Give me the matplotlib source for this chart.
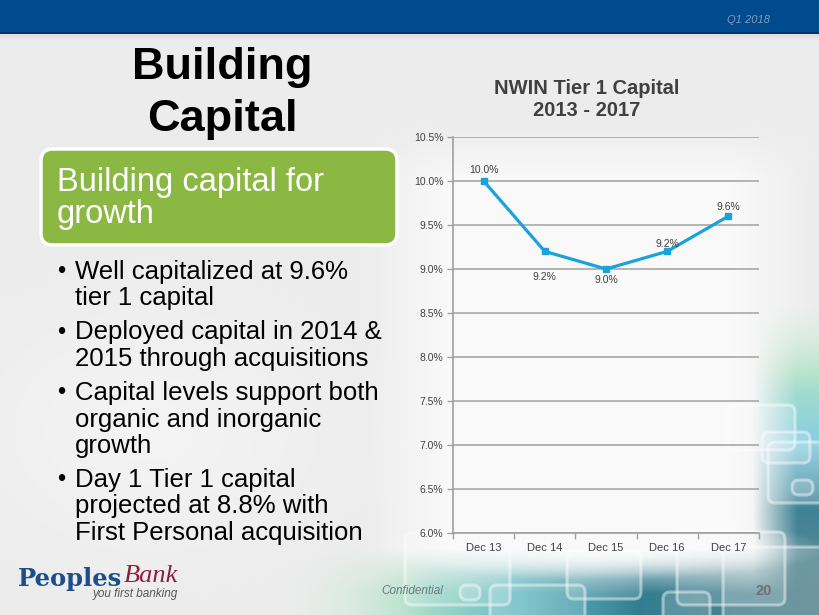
import numpy as np
import matplotlib
matplotlib.use("Agg")
import matplotlib.pyplot as plt
from matplotlib.patches import FancyBboxPatch, Rectangle

# ---- data ----
categories = ["Dec 13", "Dec 14", "Dec 15", "Dec 16", "Dec 17"]
tier1 = [10.0, 9.2, 9.0, 9.2, 9.6]
label_offsets = [11, -26, -11, 7, 9]  # px, positive = above
y_ticks = [6.0, 6.5, 7.0, 7.5, 8.0, 8.5, 9.0, 9.5, 10.0, 10.5]
bullets = [
    ["Well capitalized at 9.6%", "tier 1 capital"],
    ["Deployed capital in 2014 &", "2015 through acquisitions"],
    ["Capital levels support both", "organic and inorganic", "growth"],
    ["Day 1 Tier 1 capital", "projected at 8.8% with", "First Personal acquisition"],
]

W, H = 820, 615
plt.rcParams['font.family'] = ['Liberation Sans', 'DejaVu Sans']
fig = plt.figure(figsize=(W / 100, H / 100), dpi=100)

# ---- background ----
bg = fig.add_axes([0, 0, 1, 1])
bg.set_xlim(0, W)
bg.set_ylim(H, 0)
bg.axis('off')
yy, xx = np.mgrid[0:H, 0:W].astype(float)
img = np.ones((H, W, 3)) * np.array([236, 236, 236]) / 255.0


def blend(img, w, col):
    col = np.asarray(col, float)
    if col.ndim == 1:
        col = col / 255.0
    return img * (1 - w[..., None]) + col * w[..., None]


# soft white glow behind chart and lower-left text
gx = np.clip(1 - np.maximum(np.abs(xx - 590) - 140, 0) / 90.0, 0, 1)
gy = np.clip(1 - np.maximum(np.abs(yy - 360) - 180, 0) / 60.0, 0, 1)
img = blend(img, (gx * gy) * 0.85, [252, 252, 252])
d = np.sqrt(((xx - 150) / 260.0) ** 2 + ((yy - 430) / 190.0) ** 2)
img = blend(img, np.clip(1 - d, 0, 1) * 0.6, [250, 250, 250])

# right band colour (varies with y)
ystops = [300, 370, 440, 510, 615]
rc = np.array([[215, 238, 222], [170, 225, 195], [130, 205, 225], [55, 125, 145], [90, 135, 145]], float)
rcol = np.stack([np.interp(yy, ystops, rc[:, k]) for k in range(3)], axis=-1) / 255.0
wr = np.clip((xx - 752) / 45.0, 0, 1) * np.clip((yy - 300) / 90.0, 0, 1)
img = blend(img, wr * 0.95, rcol)

# bottom band colour (varies with x)
xstops = [280, 400, 520, 640, 820]
bc = np.array([[225, 240, 230], [175, 225, 200], [100, 185, 195], [40, 120, 140], [85, 130, 140]], float)
bcol = np.stack([np.interp(xx, xstops, bc[:, k]) for k in range(3)], axis=-1) / 255.0
wb = np.clip((yy - 548) / 45.0, 0, 1) * np.clip((xx - 280) / 150.0, 0, 1)
img = blend(img, wb * 0.95, bcol)

# white blob under x labels
d = np.sqrt(((xx - 600) / 175.0) ** 2 + ((yy - 548) / 24.0) ** 2)
img = blend(img, np.clip(1.3 - d, 0, 1) * 0.9, [250, 250, 250])
bg.imshow(img, extent=[0, W, H, 0], aspect='auto', zorder=0, interpolation='bilinear')

# decorative rounded squares
for (x, y, ww, hh) in [(567, 551, 74, 48), (677, 532, 108, 73), (723, 547, 110, 80),
                       (663, 592, 47, 30), (405, 533, 105, 72), (490, 585, 95, 40),
                       (728, 405, 67, 45), (762, 432, 48, 31), (768, 442, 60, 61),
                       (792, 480, 21, 15), (460, 585, 20, 15)]:
    bg.add_patch(FancyBboxPatch((x, y), ww, hh, boxstyle="round,pad=0,rounding_size=7",
                                fc=(1, 1, 1, 0.16), ec=(1, 1, 1, 0.45), lw=2.2, zorder=1))

# top bar
bg.add_patch(Rectangle((0, 0), W, 33, fc='#004B8D', ec='none', zorder=2))
bg.add_patch(Rectangle((0, 32), W, 1.5, fc='#003566', ec='none', zorder=2))
for i in range(6):
    bg.add_patch(Rectangle((0, 33.5 + i), W, 1, fc=(0, 0, 0, 0.05 - i * 0.008), ec='none', zorder=2))
bg.text(770, 20, "Q1 2018", color='#7F9CC0', fontsize=8, style='italic', ha='right', va='center', zorder=3)

# slide title
bg.text(222, 68, "Building", fontsize=32.5, fontweight='bold', color='black', ha='center', va='center', zorder=3)
bg.text(222, 120, "Capital", fontsize=32.5, fontweight='bold', color='black', ha='center', va='center', zorder=3)

# green box
bg.add_patch(FancyBboxPatch((41, 149), 356, 96, boxstyle="round,pad=0,rounding_size=12",
                            fc='#8AB843', ec='white', lw=2.5, zorder=3))
bg.text(57, 182, "Building capital for", fontsize=23.5, color='white', ha='left', va='center', zorder=4)
bg.text(57, 214, "growth", fontsize=23.5, color='white', ha='left', va='center', zorder=4)

# bullets
y = 272
for group in bullets:
    bg.text(61, y, "•", fontsize=17, color='black', ha='center', va='center', zorder=4)
    for line in group:
        bg.text(75, y, line, fontsize=18.5, color='black', ha='left', va='center', zorder=4)
        y += 26.5
    y += 7.5

# logo
bg.text(18, 579, "Peoples", fontsize=17.5, fontweight='bold', family='DejaVu Serif',
        color='#1C4F8A', ha='left', va='center', zorder=4)
bg.text(124, 576, "Bank", fontsize=19, style='italic', family='Liberation Serif',
        color='#8C1F3F', ha='left', va='center', zorder=4)
bg.text(93, 594, "you first banking", fontsize=8.5, style='italic', color='#555555',
        ha='left', va='center', zorder=4)

# footer
bg.text(443, 591, "Confidential", fontsize=8.5, style='italic', color='#6A7A80', ha='right', va='center', zorder=4)
bg.text(772, 591, "20", fontsize=10.5, fontweight='bold', color='#707070', ha='right', va='center', zorder=4)

# chart title
bg.text(587, 88, "NWIN Tier 1 Capital", fontsize=14.5, fontweight='bold', color='#404040',
        ha='center', va='center', zorder=4)
bg.text(587, 110, "2013 - 2017", fontsize=14.5, fontweight='bold', color='#404040',
        ha='center', va='center', zorder=4)

# ---- chart ----
L, R, T, B = 453, 759, 137, 533
ax = fig.add_axes([L / W, (H - B) / H, (R - L) / W, (B - T) / H])
ax.patch.set_alpha(0)
x = np.arange(len(categories))
ax.set_xlim(-0.5, len(categories) - 0.5)
ax.set_ylim(6.0, 10.5)
ax.set_yticks(y_ticks)
ax.set_yticklabels([f"{v:.1f}%" for v in y_ticks])
ax.set_xticks(x)
ax.set_xticklabels(categories)
ax.set_xticks(np.arange(-0.5, len(categories)), minor=True)
ax.tick_params(axis='x', which='major', length=0, pad=7, labelsize=8, labelcolor='#404040')
ax.tick_params(axis='x', which='minor', length=4, width=1, color='#A0A0A0', direction='out')
ax.tick_params(axis='y', length=4, width=1, color='#A0A0A0', labelsize=7.5, labelcolor='#404040', pad=3)
ax.grid(axis='y', color='#A8A8A8', lw=1.2)
ax.set_axisbelow(True)
for s in ['top', 'right']:
    ax.spines[s].set_visible(False)
ax.spines['left'].set_color('#A0A0A0')
ax.spines['bottom'].set_color('#A0A0A0')
ax.spines['left'].set_linewidth(1.2)
ax.spines['bottom'].set_linewidth(1.2)

ax.plot(x, tier1, color='#1AA3DB', lw=2.3, marker='s', markersize=5, zorder=3)
for xi, v, off in zip(x, tier1, label_offsets):
    ax.annotate(f"{v:.1f}%", (xi, v), xytext=(0, off * 0.72), textcoords='offset points',
                ha='center', va='center', fontsize=7.5, color='#404040')

fig.savefig("out.png", dpi=100)
